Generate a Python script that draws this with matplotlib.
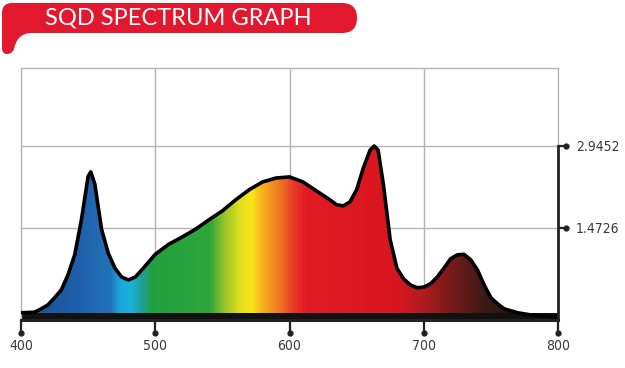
import numpy as np
import matplotlib
matplotlib.use("Agg")
import matplotlib.pyplot as plt
from matplotlib.colors import LinearSegmentedColormap
from matplotlib.path import Path
from matplotlib.patches import PathPatch, Polygon

# ---- data ----
wavelength = [400, 410, 415, 420, 425, 430, 435, 440, 445, 450, 452, 455, 460, 465, 470,
              475, 480, 485, 490, 495, 500, 510, 520, 530, 540, 550, 560, 570, 580, 590,
              600, 610, 620, 630, 635, 640, 645, 650, 655, 660, 663, 666, 670, 675, 680,
              685, 690, 695, 700, 705, 710, 715, 720, 725, 730, 735, 740, 745, 750, 755,
              760, 770, 780, 790, 800]
intensity = [-0.05, -0.04, 0.02, 0.09, 0.22, 0.36, 0.63, 0.99, 1.62, 2.40, 2.48, 2.26, 1.45, 1.02, 0.75,
             0.59, 0.54, 0.59, 0.72, 0.86, 1.00, 1.18, 1.31, 1.45, 1.62, 1.78, 1.98, 2.16, 2.30, 2.37,
             2.39, 2.30, 2.14, 1.98, 1.89, 1.87, 1.94, 2.16, 2.55, 2.87, 2.9452, 2.87, 2.24, 1.26, 0.75,
             0.56, 0.45, 0.40, 0.41, 0.47, 0.59, 0.75, 0.92, 0.99, 1.00, 0.90, 0.72, 0.45, 0.22, 0.11,
             0.02, -0.05, -0.09, -0.11, -0.13]
x_ticks = [400, 500, 600, 700, 800]
y_ticks = [1.4726, 2.9452]
y_tick_labels = ["1.4726", "2.9452"]
title = "SQD SPECTRUM GRAPH"

# spectrum colour stops (wavelength, colour)
color_stops = [(400, "#1d4e98"), (440, "#1f5ea8"), (466, "#2272b9"), (473, "#19a7d8"),
               (481, "#1ab3dc"), (489, "#1f9f9a"), (497, "#22a040"), (540, "#2da53a"),
               (552, "#9cc62c"), (564, "#e6e01c"), (572, "#f7e61a"), (582, "#f5a51e"),
               (592, "#ef7a22"), (602, "#e8402a"), (612, "#e01b24"), (680, "#d8161f"),
               (700, "#b01c20"), (720, "#7a1a1a"), (745, "#3e1a16"), (770, "#1e1410"),
               (800, "#0a0a0a")]

W, H = 625, 368
fig = plt.figure(figsize=(W / 100, H / 100), dpi=100)
fig.patch.set_facecolor("white")

x0, x1, ytop, ybot = 21, 558, 68, 320
ax = fig.add_axes([x0 / W, 1 - ybot / H, (x1 - x0) / W, (ybot - ytop) / H])
YMIN, YMAX = -0.18, 4.346
ax.set_xlim(400, 800)
ax.set_ylim(YMIN, YMAX)

# grid
for xv in x_ticks[1:-1]:
    ax.axvline(xv, color="#b4b4b4", lw=1.0, zorder=0)
for yv in y_ticks:
    ax.axhline(yv, color="#b4b4b4", lw=1.0, zorder=0)

# gradient fill clipped to the curve
wl = np.array(wavelength, float)
iv = np.array(intensity, float)
span = color_stops[-1][0] - color_stops[0][0]
cmap = LinearSegmentedColormap.from_list(
    "spec", [((w - 400) / span, c) for w, c in color_stops])
grad = np.linspace(0, 1, 800).reshape(1, -1)
im = ax.imshow(grad, cmap=cmap, extent=[400, 800, YMIN, YMAX], aspect="auto",
               origin="lower", zorder=1, interpolation="bilinear")
verts = np.vstack([np.column_stack([wl, iv]), [[800, YMIN], [400, YMIN]]])
poly = Polygon(verts, closed=True, facecolor="none", edgecolor="none", transform=ax.transData)
ax.add_patch(poly)
im.set_clip_path(poly)

# black band at bottom and outline
ax.fill_between([400, 800], YMIN, -0.055, color="#111111", zorder=2, lw=0)
ax.plot(wl, iv, color="black", lw=2.6, zorder=3, solid_joinstyle="round")

# spines
for s in ["top", "left"]:
    ax.spines[s].set_color("#b4b4b4")
    ax.spines[s].set_linewidth(1.0)
ax.spines["right"].set_visible(False)
ax.spines["bottom"].set_color("#222222")
ax.spines["bottom"].set_linewidth(2.2)
ax.plot([800, 800], [y_ticks[1], YMAX], color="#b4b4b4", lw=1.0, clip_on=False, zorder=0)
ax.plot([800, 800], [YMIN, y_ticks[1]], color="#222222", lw=2.0, clip_on=False, zorder=4)

tick_font = dict(family=["DejaVu Sans"], stretch="condensed", color="#3a3a3a")

# bottom ticks with dots
ax.set_xticks(x_ticks)
ax.set_xticklabels([str(v) for v in x_ticks], fontsize=10, **tick_font)
ax.tick_params(axis="x", length=9, width=1.6, color="#222222", pad=5, direction="out")
ax.plot(x_ticks, [-0.05] * len(x_ticks), "o", ms=3.5, color="#222222",
        transform=ax.get_xaxis_transform(), clip_on=False)

# right ticks with dots
ax.yaxis.tick_right()
ax.set_yticks(y_ticks)
ax.set_yticklabels(y_tick_labels, fontsize=10, **tick_font)
ax.tick_params(axis="y", length=7, width=1.6, color="#222222", pad=6, direction="out")
ax.plot([1.015] * 2, y_ticks, "o", ms=3.5, color="#222222",
        transform=ax.get_yaxis_transform(), clip_on=False)

# title banner (figure pixel coordinates, y downward)
def P(x, y):
    return (x / W, 1 - y / H)

pts = [P(2, 13), P(2, 3), P(12, 3),            # top-left corner
       P(342, 3),                              # top edge
       P(357, 3), P(357, 18),                  # right end (upper)
       P(357, 33), P(342, 33),                 # right end (lower)
       P(30, 33),                              # bottom edge
       P(17, 34), P(14, 49),                   # concave tail curve
       P(12, 54), P(7, 54),                    # tail bottom
       P(2, 54), P(2, 48),                     # bottom-left corner
       P(2, 13)]
codes = [Path.MOVETO, Path.CURVE3, Path.CURVE3,
         Path.LINETO,
         Path.CURVE3, Path.CURVE3,
         Path.CURVE3, Path.CURVE3,
         Path.LINETO,
         Path.CURVE3, Path.CURVE3,
         Path.CURVE3, Path.CURVE3,
         Path.CURVE3, Path.CURVE3,
         Path.CLOSEPOLY]
banner = PathPatch(Path(pts, codes), facecolor="#e2182e", edgecolor="none",
                   transform=fig.transFigure, zorder=1)
fig.add_artist(banner)
fig.text(178 / W, 1 - 18.5 / H, title, color="white", fontsize=17, ha="center", va="center",
         family=["Lato", "DejaVu Sans"], fontweight="normal", zorder=5)

fig.savefig("out.png", dpi=100)
